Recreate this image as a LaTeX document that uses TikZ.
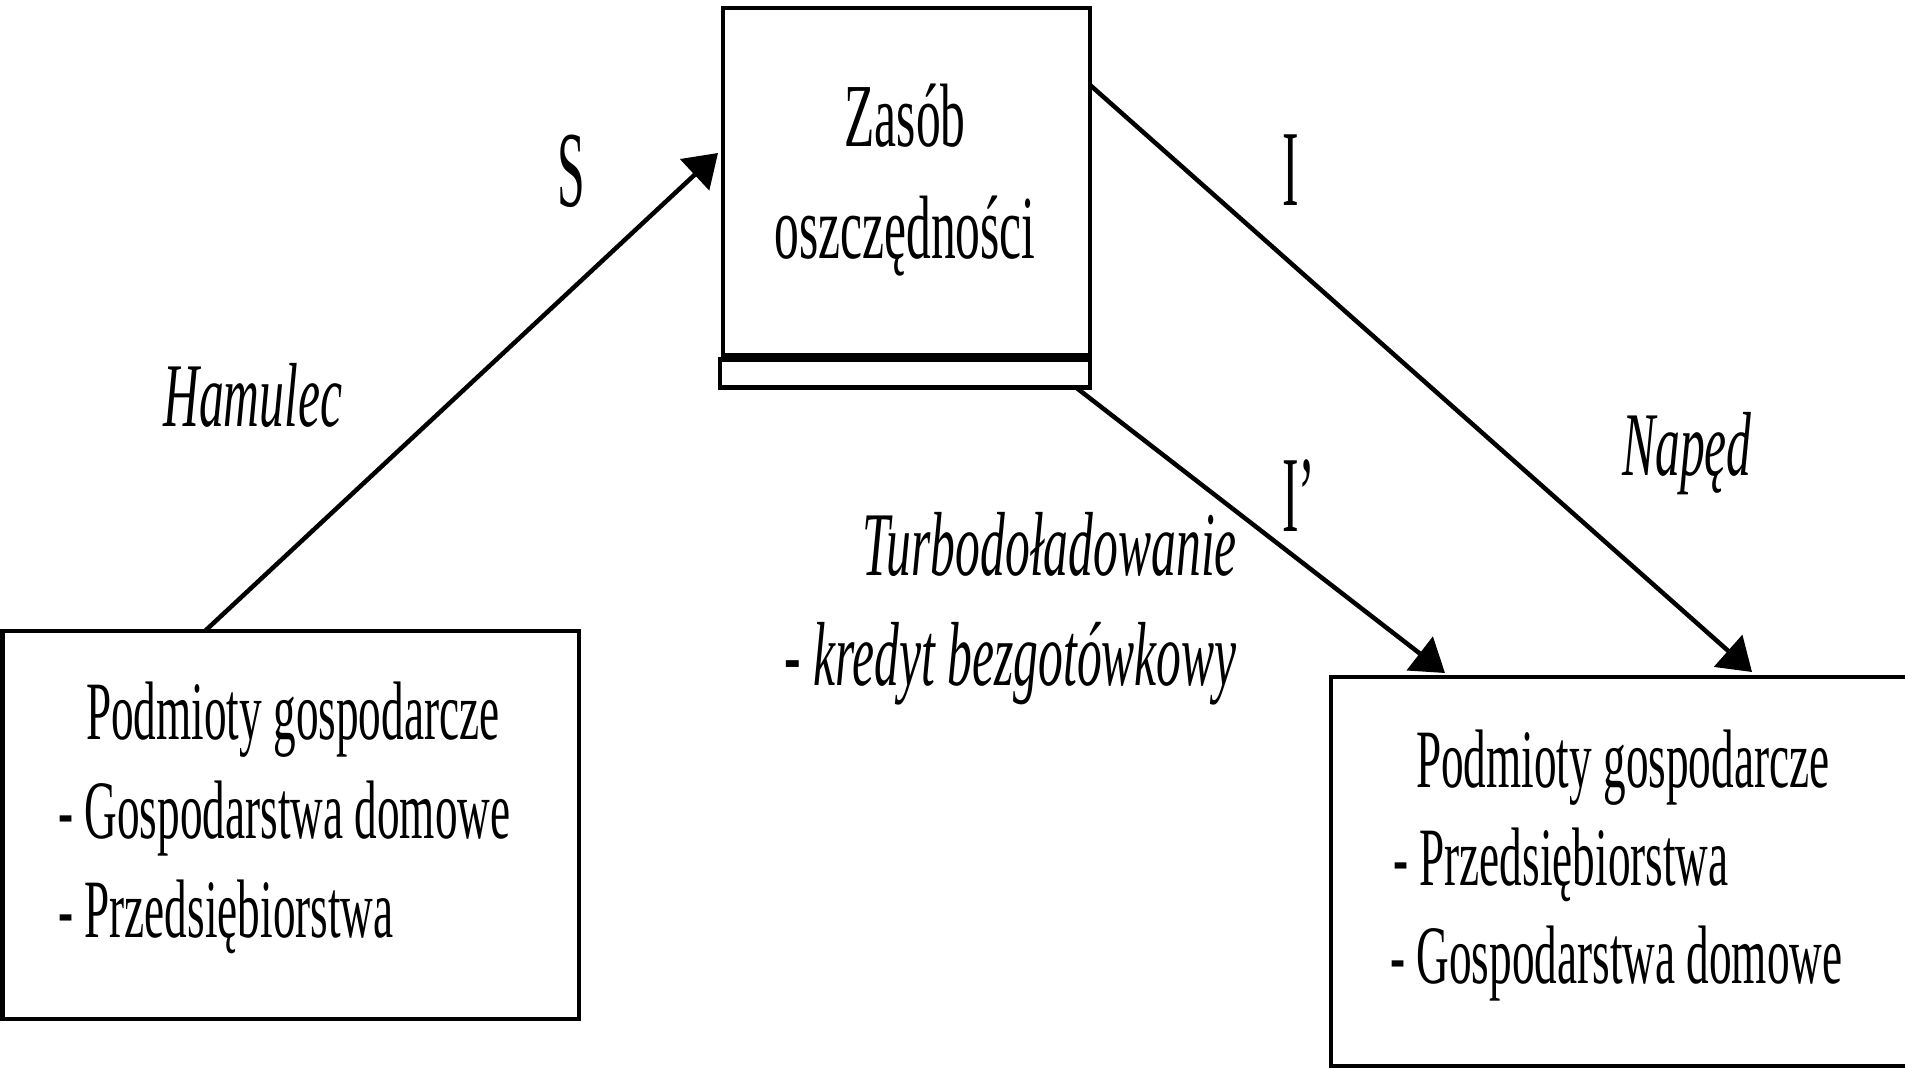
\documentclass[tikz,border=0pt]{standalone}
\usepackage{fontspec}
\setmainfont[FakeStretch=0.545]{Liberation Serif}
\newfontfamily\zfont[FakeStretch=0.55]{Liberation Serif}
\newfontfamily\lfont[FakeStretch=0.46]{Liberation Serif}
\usetikzlibrary{arrows.meta}
\begin{document}
\begin{tikzpicture}[x=1pt,y=-1pt,
  box/.style={draw=black, line width=4.5pt, rectangle, inner sep=0pt, outer sep=0pt, anchor=north west},
  body/.style={inner sep=0pt, anchor=base west, font=\fontsize{83}{99}\selectfont},
  ztext/.style={inner sep=0pt, anchor=base, font=\zfont\fontsize{90}{99}\selectfont},
  flow/.style={inner sep=0pt, anchor=base west, font=\lfont\fontsize{108}{120}\selectfont},
  lab/.style={inner sep=0pt, font=\itshape\fontsize{91}{100}\selectfont},
  arr/.style={line width=4.5pt, -{Triangle[length=32pt,width=42pt]}}
]
\useasboundingbox (0,0) rectangle (1905,1068);
% boxes
\node[box, minimum width=576.5pt, minimum height=388pt] (lbox) at (2.5,631) {};
\node[box, minimum width=700pt, minimum height=389pt] (rbox) at (1331,677) {};
\node[box, line width=4pt, minimum width=367pt, minimum height=346.5pt] (cbox) at (723,8) {};
\node[box, minimum width=370pt, minimum height=28pt] (strip) at (720,359.5) {};
% central text
\node[ztext] (z1) at (905,146) {Zasób};
\node[ztext] (z2) at (905,258) {oszczędności};
% left box text
\node[body] (l1) at (86,739) {Podmioty gospodarcze};
\node[body] (l2) at (58,838) {- Gospodarstwa domowe};
\node[body] (l3) at (58,937) {- Przedsiębiorstwa};
% right box text
\node[body] (r1) at (1416,787) {Podmioty gospodarcze};
\node[body] (r2) at (1393,885) {- Przedsiębiorstwa};
\node[body] (r3) at (1390,983) {- Gospodarstwa domowe};
% flow letters
\node[flow] (S) at (557,206) {S};
\node[flow] (I) at (1282,205) {I};
\node[flow] (Ip) at (1282,531) {I’};
% italic labels
\node[lab, anchor=base west] (ham) at (163,426) {Hamulec};
\node[lab, anchor=base west] (nap) at (1622,475) {Napęd};
\node[lab, anchor=base east] (turbo) at (1237,575) {Turbodoładowanie};
\node[lab, anchor=base east] (kred) at (1237,685) {- kredyt bezgotówkowy};
% arrow end points
\coordinate (sstart) at ([xshift=202.5pt]lbox.north west);
\coordinate (stip) at (718,153);
\coordinate (istart) at ([yshift=-77pt]cbox.north east);
\coordinate (itip) at ([xshift=421pt,yshift=5pt]rbox.north west);
\coordinate (ipstart) at ([xshift=-14pt]strip.south east);
\coordinate (iptip) at ([xshift=114pt,yshift=4pt]rbox.north west);
% arrows
\draw[arr] (sstart) -- (stip);
\draw[arr] (istart) -- (itip);
\draw[arr] (ipstart) -- (iptip);
\end{tikzpicture}
\end{document}
